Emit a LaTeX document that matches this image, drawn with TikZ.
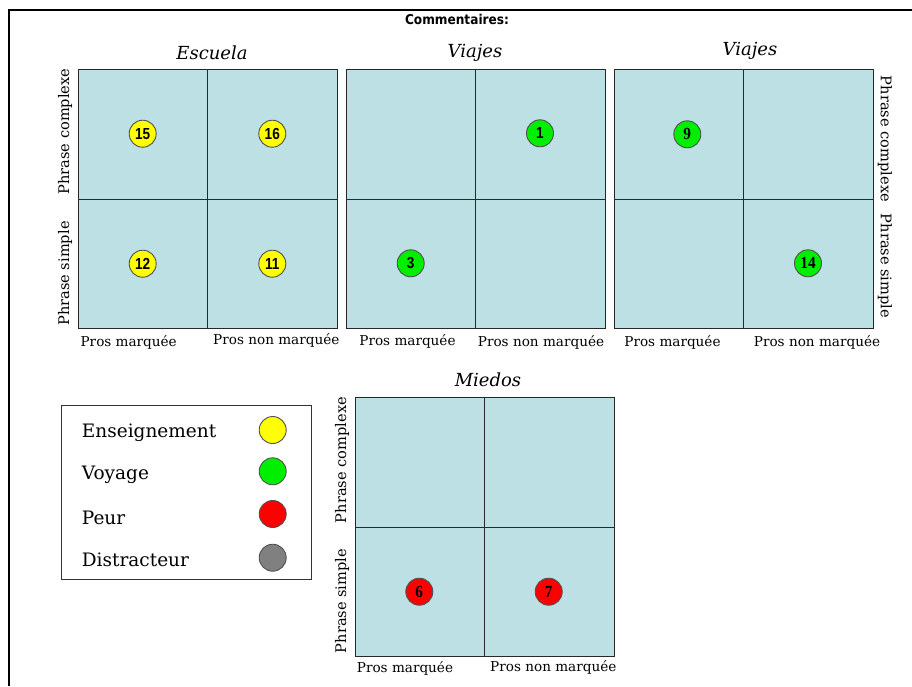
\documentclass[tikz,border=0pt]{standalone}
\usepackage{fontspec}
\setmainfont{DejaVu Serif}
\newfontfamily\numfont[FakeStretch=0.85]{Liberation Sans}
\newfontfamily\numserif[FakeStretch=0.9]{Liberation Serif}
\newfontfamily\headfont[FakeStretch=0.9]{DejaVu Sans}
\definecolor{cellblue}{RGB}{188,224,227}
\definecolor{gridline}{RGB}{40,40,40}
\definecolor{dotline}{RGB}{80,80,80}
\definecolor{dyellow}{RGB}{255,255,0}
\definecolor{dgreen}{RGB}{0,238,0}
\definecolor{dred}{RGB}{255,0,0}
\definecolor{dgrey}{RGB}{128,128,128}
\newcommand\quadgrid[2]{%
  \fill[cellblue] (#1,#2) rectangle ++(259,259);
  \draw[gridline,line width=0.9pt] (#1,#2) rectangle ++(259,259);
  \draw[gridline,line width=0.9pt] (#1+129.5,#2) -- ++(0,259);
  \draw[gridline,line width=0.9pt] (#1,#2+129.5) -- ++(259,0);
}
\begin{document}
\begin{tikzpicture}[x=1pt,y=-1pt,
  dot/.style={circle,draw=dotline,line width=0.9pt,minimum size=27pt,inner sep=0pt,
    font=\numfont\bfseries\fontsize{16}{16}\selectfont},
  sdot/.style={dot,font=\numserif\bfseries\fontsize{17}{17}\selectfont},
  axislabel/.style={font=\fontsize{13.6}{13.6}\selectfont,inner sep=0pt},
  sidelabel/.style={font=\fontsize{14.6}{14.6}\selectfont,inner sep=0pt},
  ttl/.style={font=\itshape\fontsize{18}{18}\selectfont,inner sep=0pt},
  legtext/.style={font=\fontsize{18.5}{18.5}\selectfont,anchor=west,inner sep=0pt}]
\useasboundingbox (0,0) rectangle (912,686);
% outer frame
\draw[black,line width=2pt] (9,686) -- (9,10) -- (912,10);
\node[font=\headfont\bfseries\fontsize{13.5}{13.5}\selectfont,inner sep=0pt] (head) at (457,19) {Commentaires:};
% grids
\quadgrid{78}{69.5}
\quadgrid{346}{69.5}
\quadgrid{614}{69.5}
\quadgrid{355}{397.5}
% titles
\node[ttl] (t1) at (212,53) {Escuela};
\node[ttl] (t2) at (475,53) {Viajes};
\node[ttl] (t3) at (750,51) {Viajes};
\node[ttl] (t4) at (488,380) {Miedos};
% side labels
\node[sidelabel,rotate=90] (l1a) at (65,131.5) {Phrase complexe};
\node[sidelabel,rotate=90] (l1b) at (65,273.5) {Phrase simple};
\node[sidelabel,rotate=-90] (l3a) at (885,139) {Phrase complexe};
\node[sidelabel,rotate=-90] (l3b) at (885,266) {Phrase simple};
\node[sidelabel,rotate=90] (l4a) at (342,460) {Phrase complexe};
\node[sidelabel,rotate=90] (l4b) at (342,601) {Phrase simple};
% bottom labels
\node[axislabel] (b1a) at (128.7,342) {Pros marquée};
\node[axislabel] (b1b) at (276.3,340.5) {Pros non marquée};
\node[axislabel] (b2a) at (407.5,341) {Pros marquée};
\node[axislabel] (b2b) at (541,342) {Pros non marquée};
\node[axislabel] (b3a) at (672.5,342) {Pros marquée};
\node[axislabel] (b3b) at (817,342) {Pros non marquée};
\node[axislabel] (b4a) at (405,668.5) {Pros marquée};
\node[axislabel] (b4b) at (553.3,667) {Pros non marquée};
% dots
\node[dot,fill=dyellow] (d15) at (142.7,133.7) {15};
\node[dot,fill=dyellow] (d16) at (272.3,133.7) {16};
\node[dot,fill=dyellow] (d12) at (142.7,263.7) {12};
\node[dot,fill=dyellow] (d11) at (272.3,263.7) {11};
\node[dot,fill=dgreen] (d1) at (540,133.3) {1};
\node[dot,fill=dgreen] (d3) at (410.7,263.3) {3};
\node[sdot,fill=dgreen] (d9) at (687.3,134.3) {9};
\node[sdot,fill=dgreen] (d14) at (808,263.3) {14};
\node[sdot,fill=dred] (d6) at (419.3,591.7) {6};
\node[sdot,fill=dred] (d7) at (548.7,591.7) {7};
% legend
\draw[black!80,line width=0.9pt] (61,405.7) rectangle (311.7,579.3);
\node[legtext] (e1) at (81.7,432.7) {Enseignement};
\node[legtext] (e2) at (81.7,475) {Voyage};
\node[legtext] (e3) at (81.7,517.5) {Peur};
\node[legtext] (e4) at (81.7,560) {Distracteur};
\node[dot,fill=dyellow] (c1) at (272.7,430) {};
\node[dot,fill=dgreen] (c2) at (272.7,471.3) {};
\node[dot,fill=dred] (c3) at (272.7,514) {};
\node[dot,fill=dgrey] (c4) at (272.7,557.7) {};
\end{tikzpicture}
\end{document}
